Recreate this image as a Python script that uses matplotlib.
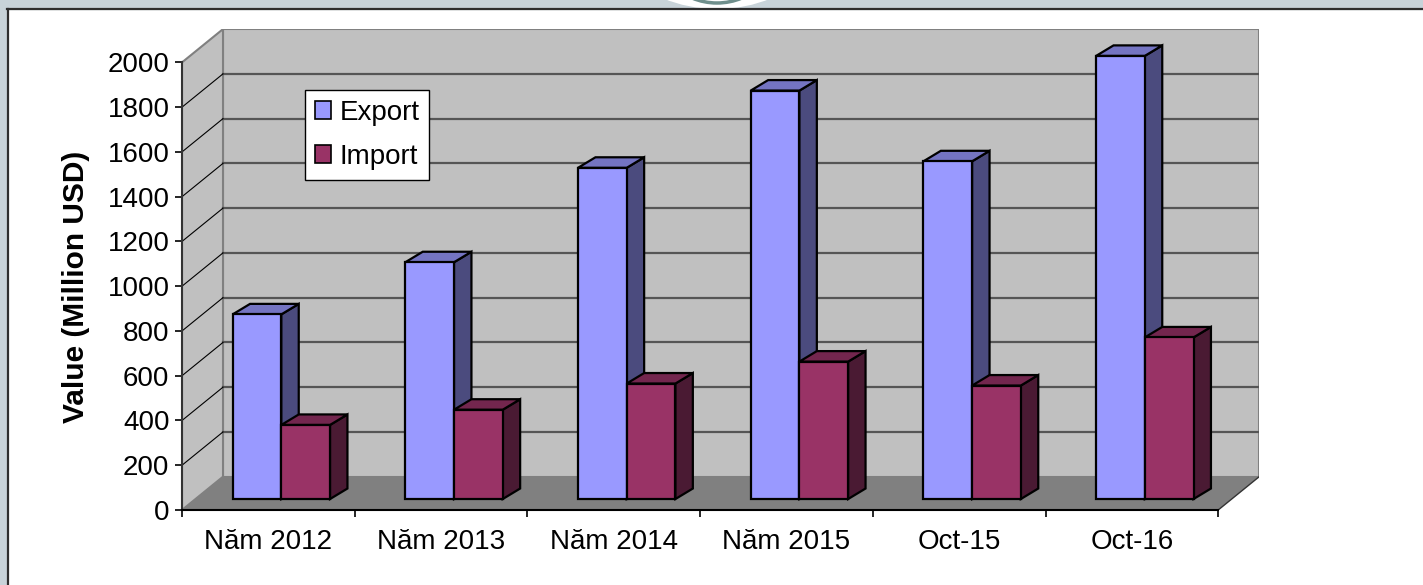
import numpy as np
import matplotlib
matplotlib.use('Agg')
import matplotlib.pyplot as plt
from matplotlib.patches import Polygon, Rectangle, Patch, Ellipse
from matplotlib.lines import Line2D

plt.rcParams['font.family'] = ['Liberation Sans', 'DejaVu Sans']

# Data
categories = ['Năm 2012', 'Năm 2013', 'Năm 2014', 'Năm 2015', 'Oct-15', 'Oct-16']
export_vals = [825, 1058, 1480, 1825, 1509, 1980]
import_vals = [331, 399, 516, 614, 507, 722]
y_ticks = list(range(0, 2001, 200))

# 3D look (category units / value units)
DX, DY = 0.2374, 148.8      # floor depth
BX0, BY0 = 0.078, 49.0      # bar front face offset
BDX, BDY = 0.101, 47.0      # bar depth
BAR_L, BAR_W = 0.215, 0.282
CAT_PX, VAL_PX = 172.7, 0.2238
W_PX, H_PX = 1423, 585

n = len(categories)
ymax = y_ticks[-1]

fig = plt.figure(figsize=(W_PX / 100, H_PX / 100), dpi=100)
ax_w = (n + DX) * CAT_PX
ax_h = (ymax + DY) * VAL_PX
ax = fig.add_axes([182 / W_PX, 75 / H_PX, ax_w / W_PX, ax_h / H_PX])
ax.set_xlim(0, n + DX)
ax.set_ylim(0, ymax + DY)
ax.patch.set_visible(False)

# walls and floor
ax.add_patch(Rectangle((DX, DY), n, ymax, fc='#C0C0C0', ec='#808080', lw=1.5, zorder=1))
ax.add_patch(Polygon([(0, 0), (DX, DY), (DX, ymax + DY), (0, ymax)], closed=True,
                     fc='#C0C0C0', ec='#808080', lw=1.5, zorder=1))
ax.add_patch(Polygon([(0, 0), (n, 0), (n + DX, DY), (DX, DY)], closed=True,
                     fc='#808080', ec='none', zorder=1.5))
ax.plot([n, n + DX], [0, DY], color='#333333', lw=1, zorder=1.6)

for v in y_ticks[1:-1]:
    ax.plot([DX, n + DX], [v + DY, v + DY], color='#555555', lw=1.6, zorder=2)
    ax.plot([0, DX], [v, v + DY], color='black', lw=0.8, zorder=2)


def draw_bar(x0, v, front, top, side):
    fx, fy = x0 + BX0, BY0
    kw = dict(closed=True, ec='black', lw=1.6, joinstyle='miter', zorder=3)
    ax.add_patch(Polygon([(fx + BAR_W, fy), (fx + BAR_W + BDX, fy + BDY),
                          (fx + BAR_W + BDX, fy + v + BDY), (fx + BAR_W, fy + v)], fc=side, **kw))
    ax.add_patch(Polygon([(fx, fy + v), (fx + BAR_W, fy + v),
                          (fx + BAR_W + BDX, fy + v + BDY), (fx + BDX, fy + v + BDY)], fc=top, **kw))
    ax.add_patch(Polygon([(fx, fy), (fx + BAR_W, fy), (fx + BAR_W, fy + v), (fx, fy + v)],
                         fc=front, **kw))


for i in range(n):
    draw_bar(i + BAR_L, export_vals[i], '#9999FF', '#7474C2', '#4B4B7E')
    draw_bar(i + BAR_L + BAR_W, import_vals[i], '#993366', '#73264E', '#4A1A33')

# axes
for s in ['top', 'right']:
    ax.spines[s].set_visible(False)
ax.spines['left'].set_bounds(0, ymax)
ax.spines['left'].set_color('#333333')
ax.spines['left'].set_linewidth(1.5)
ax.spines['bottom'].set_bounds(0, n)
ax.spines['bottom'].set_linewidth(1.5)
ax.spines['left'].set_zorder(4)
ax.spines['bottom'].set_zorder(4)

ax.set_yticks(y_ticks)
ax.tick_params(axis='y', direction='out', length=5, width=1.2, pad=4, labelsize=20)
ax.set_xticks(np.arange(n + 1))
ax.set_xticklabels([])
ax.set_xticks(np.arange(n) + 0.5, minor=True)
ax.set_xticklabels(categories, minor=True)
ax.tick_params(axis='x', which='major', direction='out', length=5, width=1.2)
ax.tick_params(axis='x', which='minor', length=0, pad=14, labelsize=20)

ax.set_ylabel('Value (Million USD)', fontsize=21.5, fontweight='bold')
ax.yaxis.set_label_coords((90 - 182) / ax_w, (510 - 287) / ax_h)

leg = ax.legend(handles=[Patch(fc='#9999FF', ec='black', lw=1.2),
                         Patch(fc='#993366', ec='black', lw=1.2)],
                labels=['Export', 'Import'], loc='upper left',
                bbox_to_anchor=(305 / W_PX, 1 - 90 / H_PX), bbox_transform=fig.transFigure,
                fancybox=False, edgecolor='black', framealpha=1, borderaxespad=0,
                fontsize=20, handlelength=0.6, handleheight=0.6, handletextpad=0.3,
                labelspacing=0.65, borderpad=0.35)
leg.get_frame().set_linewidth(1)
leg.set_zorder(10)

# page frame
tf = fig.transFigure
fig.add_artist(Rectangle((0, 1 - 9 / H_PX), 1, 9 / H_PX, transform=tf, color='#C8D3D9', zorder=0))
fig.add_artist(Rectangle((0, 0), 7 / W_PX, 1, transform=tf, color='#C8D3D9', zorder=0))
fig.add_artist(Ellipse((717 / W_PX, 1 + 134 / H_PX), 286 / W_PX, 286 / H_PX,
                       transform=tf, fc='white', ec='none', zorder=1))
fig.add_artist(Ellipse((717 / W_PX, 1 + 62 / H_PX), 130 / W_PX, 130 / H_PX,
                       transform=tf, fc='none', ec='#6F8F8C', lw=2.5, zorder=1))
fig.add_artist(Line2D([7 / W_PX, 1], [1 - 9.2 / H_PX] * 2, transform=tf, color='#2E2E2E', lw=1.6, zorder=2))
fig.add_artist(Line2D([7.8 / W_PX] * 2, [0, 1 - 9 / H_PX], transform=tf, color='#2E2E2E', lw=1.6, zorder=2))

fig.savefig('out.png', dpi=100)
